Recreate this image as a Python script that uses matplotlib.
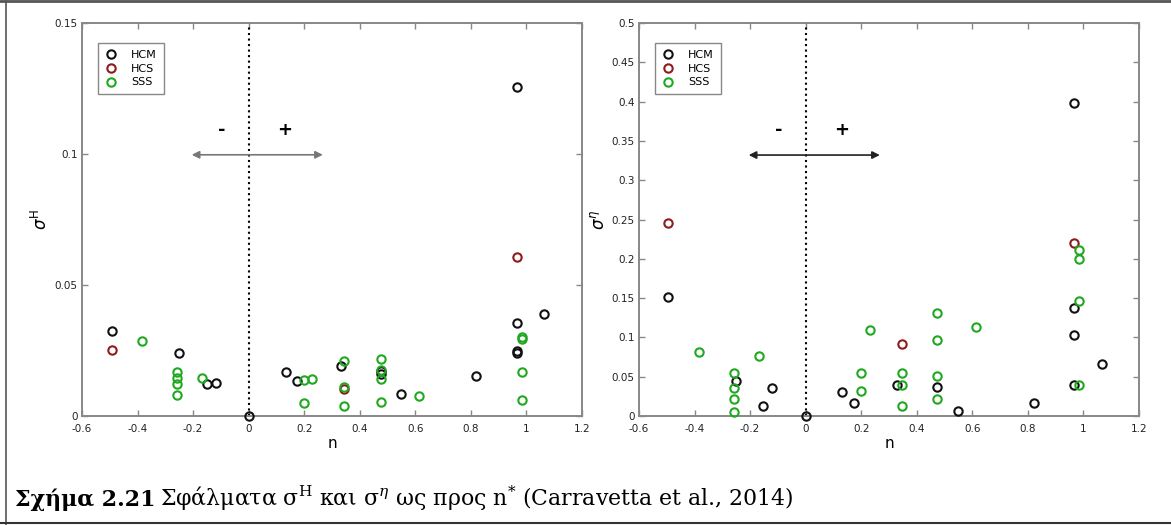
import numpy as np
import matplotlib
matplotlib.use('Agg')
from matplotlib import pyplot as plt
from matplotlib.lines import Line2D

# ---- data (n, sigma) ----
# left panel: sigma^H
hcm_n_H = [-0.493, -0.251, -0.150, -0.119, 0.0, 0.133, 0.174, 0.332, 0.475, 0.475,
           0.548, 0.820, 0.965, 0.965, 0.965, 0.965, 1.063]
hcm_s_H = [0.0324, 0.0239, 0.0122, 0.0125, 0.0, 0.0167, 0.0134, 0.0190, 0.0162, 0.0170,
           0.0083, 0.0151, 0.1256, 0.0356, 0.0248, 0.0242, 0.0388]
hcs_n_H = [-0.493, 0.345, 0.965]
hcs_s_H = [0.0252, 0.0102, 0.0607]
sss_n_H = [-0.383, -0.257, -0.257, -0.257, -0.257, -0.167, 0.201, 0.228, 0.201,
           0.345, 0.345, 0.345, 0.475, 0.475, 0.475, 0.475, 0.615, 0.985, 0.985, 0.985, 0.985]
sss_s_H = [0.0288, 0.0169, 0.0146, 0.0122, 0.0081, 0.0144, 0.0137, 0.0141, 0.0048,
           0.0209, 0.0111, 0.0038, 0.0219, 0.0174, 0.0141, 0.0052, 0.0078, 0.0302, 0.0294, 0.0167, 0.0062]

# right panel: sigma^eta
hcm_n_E = [-0.495, -0.250, -0.152, -0.120, 0.0, 0.132, 0.174, 0.330, 0.473,
           0.547, 0.822, 0.965, 0.965, 0.965, 0.965, 1.065]
hcm_s_E = [0.152, 0.0449, 0.0123, 0.0352, 0.0, 0.0301, 0.0161, 0.039, 0.0364,
           0.0064, 0.0161, 0.398, 0.137, 0.1034, 0.0398, 0.0657]
hcs_n_E = [-0.495, 0.346, 0.965]
hcs_s_E = [0.2458, 0.0915, 0.2195]
sss_n_E = [-0.383, -0.257, -0.257, -0.257, -0.257, -0.168, 0.199, 0.199, 0.230,
           0.346, 0.346, 0.346, 0.473, 0.473, 0.473, 0.473, 0.613, 0.985, 0.985, 0.985, 0.985]
sss_s_E = [0.0818, 0.0551, 0.036, 0.0216, 0.0055, 0.0758, 0.0551, 0.0314, 0.1097,
           0.0551, 0.039, 0.0131, 0.1305, 0.0966, 0.0504, 0.0212, 0.1127, 0.2106, 0.1996, 0.1462, 0.0394]

series_names = ['HCM', 'HCS', 'SSS']
series_colors = ['#111111', '#8e1c1c', '#20a820']

W, H = 1171, 525
fig = plt.figure(figsize=(W / 100, H / 100), dpi=100)

def px_axes(x0, y0, x1, y1):
    # pixel box (top-left origin) -> figure fraction
    return fig.add_axes([x0 / W, 1 - y1 / H, (x1 - x0) / W, (y1 - y0) / H])

axL = px_axes(82, 23, 582, 416)
axR = px_axes(639, 23, 1139, 416)

panels = [
    (axL, [(hcm_n_H, hcm_s_H), (hcs_n_H, hcs_s_H), (sss_n_H, sss_s_H)],
     0.15, np.arange(0, 0.151, 0.05), ['0', '0.05', '0.1', '0.15'],
     r'$\sigma^{\mathrm{H}}$', 0.0997, 0.109, '#777777'),
    (axR, [(hcm_n_E, hcm_s_E), (hcs_n_E, hcs_s_E), (sss_n_E, sss_s_E)],
     0.5, np.arange(0, 0.501, 0.05),
     ['0', '0.05', '0.1', '0.15', '0.2', '0.25', '0.3', '0.35', '0.4', '0.45', '0.5'],
     r'$\sigma^{\eta}$', 0.332, 0.364, '#222222'),
]

xticks = np.arange(-0.6, 1.21, 0.2)
xticklabels = ['-0.6', '-0.4', '-0.2', '0', '0.2', '0.4', '0.6', '0.8', '1', '1.2']

for ax, data, ymax, yt, ytl, ylab, arr_y, sign_y, arr_col in panels:
    for (xs, ys), name, col in zip(data, series_names, series_colors):
        ax.plot(xs, ys, linestyle='none', marker='o', markersize=6,
                markerfacecolor='none', markeredgecolor=col, markeredgewidth=1.5,
                label=name, clip_on=False, zorder=3)
    ax.set_xlim(-0.6, 1.2)
    ax.set_ylim(0, ymax)
    ax.set_xticks(xticks)
    ax.set_xticklabels(xticklabels)
    ax.set_yticks(yt)
    ax.set_yticklabels(ytl)
    ax.tick_params(direction='in', top=True, right=True, length=4, width=1,
                   color='#888888', labelsize=7.5, labelcolor='#222222')
    ax.tick_params(axis='x', pad=6)
    ax.tick_params(axis='y', pad=3)
    for sp in ax.spines.values():
        sp.set_color('#888888')
        sp.set_linewidth(1.4)

    # dotted divider at n = 0
    ax.axvline(0, color='black', linestyle=':', linewidth=1.5, zorder=2)
    # double arrow and signs
    ax.annotate('', xy=(0.267, arr_y), xytext=(-0.205, arr_y),
                arrowprops=dict(arrowstyle='<|-|>', color=arr_col, lw=1.2,
                                mutation_scale=11, shrinkA=0, shrinkB=0))
    ax.text(-0.096, sign_y, '-', fontsize=13, fontweight='bold', ha='center', va='center')
    ax.text(0.13, sign_y, '+', fontsize=13, fontweight='bold', ha='center', va='center')

    ax.set_xlabel('n', fontsize=11, labelpad=1)
    ax.set_ylabel(ylab, fontsize=12, labelpad=3)

    leg = ax.legend(loc='upper left', bbox_to_anchor=(0.032, 0.949), borderaxespad=0,
                    fontsize=8, handlelength=1.2, handletextpad=1.2,
                    labelspacing=0.35, borderpad=0.6, fancybox=False, framealpha=1)
    leg.get_frame().set_edgecolor('#888888')
    leg.get_frame().set_linewidth(1.0)

# figure frame: top, left, bottom
fig.add_artist(Line2D([0, 1], [1 - 1 / H, 1 - 1 / H], color='#555555', lw=2))
fig.add_artist(Line2D([6 / W, 6 / W], [0, 1], color='#555555', lw=1.2))
fig.add_artist(Line2D([0, 1], [1 - 523 / H, 1 - 523 / H], color='#333333', lw=1.5))

# caption
renderer = fig.canvas.get_renderer()
cap_y = 1 - 506 / H
t1 = fig.text(15 / W, cap_y, 'Σχήμα 2.21', fontsize=15.8, fontweight='bold',
              family='DejaVu Serif', va='baseline')
bb = t1.get_window_extent(renderer)
plt.rcParams['mathtext.fontset'] = 'dejavuserif'
fig.text((bb.x1 + 5) / W, cap_y,
         r'Σφάλματα σ$^{\mathrm{H}}$ και σ$^{\eta}$ ως προς n$^{*}$ (Carravetta et al., 2014)',
         fontsize=15.8, family='DejaVu Serif', va='baseline')

fig.savefig('out.png', dpi=100)
